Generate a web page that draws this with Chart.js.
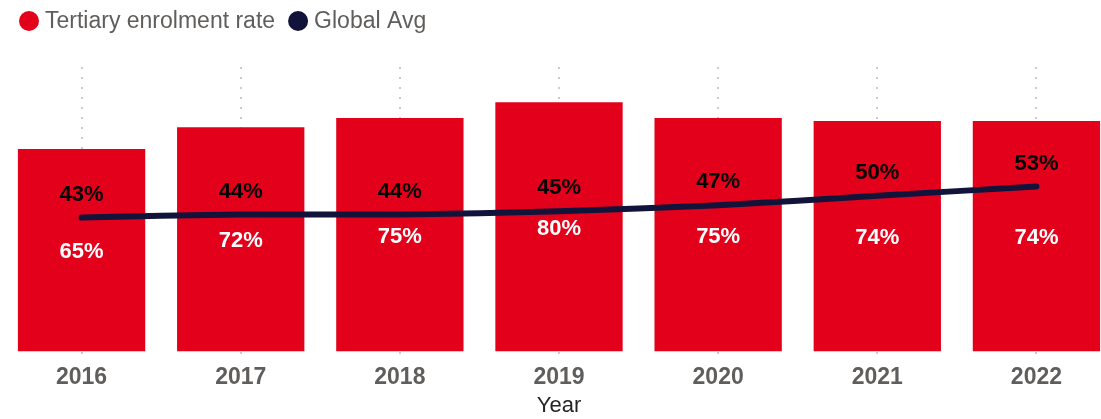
<!DOCTYPE html>
<html lang="en">
<head>
    <meta charset="UTF-8">
    <title>Tertiary enrolment rate</title>
    <style>
        body {
            margin: 0;
            padding: 0;
            overflow: hidden;
            background: #fff;
        }
        .wrap {
            position: relative;
            width: 1116px;
            height: 419px;
        }
    </style>
</head>
<body>
    <div class="wrap"><canvas id="enrolChart"></canvas></div>

    <script src="https://cdn.jsdelivr.net/npm/chart.js"></script>
    <script>
        const years = ['2016', '2017', '2018', '2019', '2020', '2021', '2022'];
        const enrolmentRate = [65, 72, 75, 80, 75, 74, 74];
        const globalAvg = [43, 44, 44, 45, 47, 50, 53];
        const seriesNames = ['Tertiary enrolment rate', 'Global Avg'];

        const RED = '#e3001b';
        const NAVY = '#11133b';
        const FONT = "'Liberation Sans', Arial, sans-serif";

        Chart.defaults.font.family = FONT;

        // legend drawn by hand so it sits where the original one does
        const legendPlugin = {
            id: 'topLegend',
            afterDraw(chart) {
                const c = chart.ctx;
                c.save();
                c.font = '23px ' + FONT;
                c.textBaseline = 'alphabetic';
                c.textAlign = 'left';
                let x = 19;
                [RED, NAVY].forEach((col, i) => {
                    c.fillStyle = col;
                    c.beginPath();
                    c.arc(x + 10, 21, 10, 0, Math.PI * 2);
                    c.fill();
                    c.fillStyle = '#605e5c';
                    c.fillText(seriesNames[i], x + 26, 28);
                    x += 26 + c.measureText(seriesNames[i]).width + 13;
                });
                c.restore();
            }
        };

        const valueLabels = {
            id: 'valueLabels',
            afterDatasetsDraw(chart) {
                const c = chart.ctx;
                c.save();
                c.font = 'bold 22px ' + FONT;
                c.textAlign = 'center';
                c.textBaseline = 'middle';
                chart.data.datasets.forEach((ds, i) => {
                    const meta = chart.getDatasetMeta(i);
                    meta.data.forEach((el, j) => {
                        const txt = ds.data[j] + '%';
                        if (ds.type === 'bar') {
                            c.fillStyle = '#ffffff';
                            c.fillText(txt, el.x, (el.y + el.base) / 2 + 2);
                        } else {
                            c.fillStyle = '#000000';
                            c.fillText(txt, el.x, el.y - 23);
                        }
                    });
                });
                c.restore();
            }
        };

        const ctx = document.getElementById('enrolChart').getContext('2d');
        const enrolChart = new Chart(ctx, {
            data: {
                labels: years,
                datasets: [
                    {
                        type: 'line',
                        label: seriesNames[1],
                        data: globalAvg,
                        borderColor: NAVY,
                        backgroundColor: NAVY,
                        borderWidth: 6,
                        borderCapStyle: 'round',
                        pointRadius: 0,
                        tension: 0.3,
                        order: 0
                    },
                    {
                        type: 'bar',
                        label: seriesNames[0],
                        data: enrolmentRate,
                        backgroundColor: RED,
                        borderWidth: 0,
                        barPercentage: 0.8,
                        categoryPercentage: 1,
                        order: 1
                    }
                ]
            },
            options: {
                responsive: true,
                maintainAspectRatio: false,
                animation: false,
                layout: {
                    padding: { top: 65, left: 2, right: 0, bottom: 0 }
                },
                plugins: {
                    legend: { display: false },
                    tooltip: { enabled: false }
                },
                scales: {
                    x: {
                        offset: true,
                        border: { display: false, dash: [2, 8], dashOffset: -2 },
                        grid: {
                            offset: false,
                            color: '#cdcbc9',
                            lineWidth: 2,
                            drawTicks: true,
                            tickLength: 14.3,
                            tickColor: '#cdcbc9',
                            tickBorderDash: [2, 30]
                        },
                        ticks: {
                            color: '#605e5c',
                            padding: 0,
                            font: { size: 23, weight: 'bold', lineHeight: 1 }
                        },
                        title: {
                            display: true,
                            text: 'Year',
                            color: '#252423',
                            padding: { top: 3.8, bottom: 0 },
                            font: { size: 22, lineHeight: 1.2 }
                        }
                    },
                    y: {
                        display: false,
                        min: 0,
                        max: 92
                    }
                }
            },
            plugins: [legendPlugin, valueLabels]
        });
    </script>
</body>
</html>
